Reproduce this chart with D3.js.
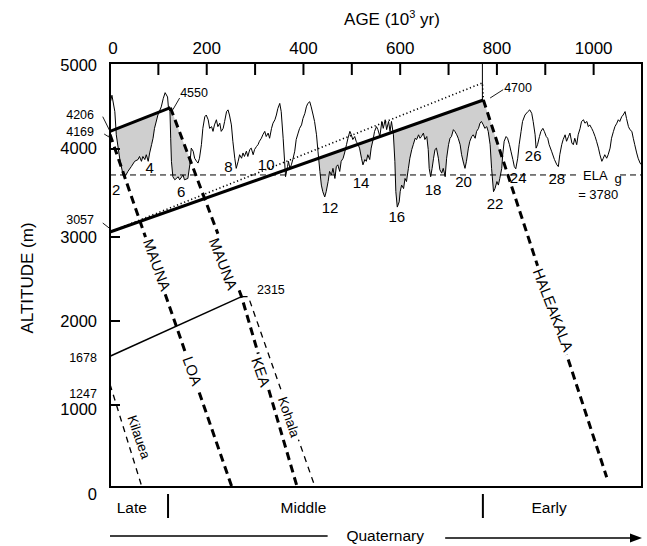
<!DOCTYPE html>
<html>
<head>
<meta charset="utf-8">
<script src="https://cdn.jsdelivr.net/npm/d3@7"></script>
<style>
body { margin: 0; background: #fff; }
svg text { font-family: "Liberation Sans", Arial, Helvetica, sans-serif; fill: #000; }
</style>
</head>
<body>
<svg width="647" height="546"></svg>
<script>
// axis ticks
var ageTicks = [100, 200, 300, 400, 500, 600, 700, 800, 900, 1000];
var ageLabels = [0, 200, 400, 600, 800, 1000];
var altTicks = [1000, 2000, 3000, 4000];
var altLabels = [0, 1000, 2000, 3000, 4000, 5000];

// snowline curve: age (ka) and altitude (m)
var curveAge = [1, 4, 10, 13, 20, 27, 30, 37, 44, 51, 58, 61, 65, 68, 72, 75, 79, 82, 86, 89, 92, 99, 106, 110, 114, 119, 121, 124, 125.5, 127,
  130, 134, 141, 144, 151, 154, 161, 165, 168, 172, 175, 179, 182, 185, 189, 192, 196, 199, 203, 206, 210, 213, 216, 220, 223, 227, 230, 234, 237, 241,
  244, 247, 251, 254, 258, 261, 265, 268, 272, 275, 278, 282, 285, 289, 292, 296, 299, 303, 306, 309, 313, 316, 320, 323, 327, 330, 334, 337, 341, 344,
  347, 351, 354, 358, 361, 363, 367, 369, 372, 375, 378, 382, 385, 389, 392, 396, 399, 403, 406, 409, 413, 416, 420, 423, 427, 430, 434, 437, 440, 444,
  447, 451, 454, 458, 461, 465, 468, 471, 475, 478, 482, 485, 489, 492, 496, 499, 502, 506, 509, 513, 516, 520, 523, 527, 530, 533, 537, 540, 544, 547,
  551, 554, 558, 562, 565, 569, 572, 576, 579, 582, 586, 589, 591, 594, 598, 600, 603, 607, 610, 613, 617, 620, 624, 627, 631, 634, 638, 641, 644, 648,
  651, 655, 658, 660, 663, 666, 669, 672, 675, 679, 682, 686, 689, 693, 696, 700, 703, 706, 710, 713, 717, 720, 724, 727, 731, 734, 737, 741, 744, 748,
  751, 755, 758, 762, 765, 768, 772, 775, 779, 782, 786, 789, 793, 796, 800, 803, 806, 810, 812, 815, 819, 822, 826, 829, 833, 836, 839, 843, 846, 850,
  853, 858, 864, 868, 872, 875, 879, 881, 884, 888, 891, 895, 898, 902, 905, 908, 913, 919, 924, 927, 930, 934, 937, 941, 944, 948, 951, 955, 958, 961,
  965, 968, 972, 975, 979, 982, 986, 989, 992, 996, 999, 1003, 1006, 1010, 1013, 1017, 1020, 1023, 1027, 1030, 1034, 1037, 1041, 1044, 1048, 1051, 1054, 1058, 1061, 1065,
  1068, 1072, 1075, 1079, 1082, 1085, 1089, 1092, 1096, 1099];
var curveAlt = [4550, 4625, 4435, 4165, 3895, 3705, 3675, 3745, 3800, 3860, 3880, 3915, 3860, 3915, 3880, 3935, 3860, 3955, 4050, 4125, 4240, 4395, 4490, 4585, 4655, 4605, 4470, 4435, 4125, 3860,
  3685, 3650, 3685, 3650, 3705, 3650, 3665, 3820, 4010, 3975, 3895, 3860, 3840, 3895, 4050, 4240, 4375, 4395, 4340, 4240, 4260, 4205, 4280, 4340, 4260, 4300, 4205, 4240, 4320, 4435,
  4455, 4395, 4280, 4090, 3895, 3780, 3860, 3935, 3895, 3955, 3915, 3975, 3915, 3995, 4010, 3935, 3995, 4030, 4050, 4090, 4125, 4165, 4205, 4145, 4185, 4125, 4240, 4300, 4340, 4395,
  4470, 4530, 4435, 4125, 3860, 3685, 3800, 3860, 3780, 3820, 3880, 3975, 4110, 4185, 4240, 4280, 4355, 4415, 4490, 4530, 4550, 4490, 4395, 4320, 4165, 3975, 3745, 3590, 3515, 3455,
  3515, 3630, 3745, 3705, 3780, 3665, 3800, 3820, 3745, 3860, 3895, 3955, 4050, 4125, 4205, 4165, 4110, 4145, 4090, 4050, 4010, 3895, 3820, 3880, 3860, 3935, 3880, 4010, 4110, 4205,
  4260, 4225, 4145, 4320, 4240, 4340, 4225, 4320, 4205, 4320, 4165, 3860, 3515, 3340, 3400, 3515, 3590, 3550, 3665, 3630, 3780, 3895, 3995, 4050, 4125, 4110, 4165, 4125, 4145, 4185,
  4110, 4145, 3995, 3780, 3685, 3780, 3895, 3995, 4010, 3895, 3765, 3725, 3780, 3685, 3895, 4050, 4125, 4145, 4225, 4205, 4165, 4125, 4050, 3935, 3840, 3780, 3860, 4010, 4090, 4145,
  4165, 4125, 4205, 4240, 4300, 4320, 4280, 4240, 4260, 4205, 4050, 3780, 3515, 3550, 3630, 3590, 3665, 3780, 3935, 4090, 4145, 4125, 4050, 3975, 3880, 3800, 3775, 3895, 4050, 4205,
  4320, 4395, 4435, 4455, 4415, 4320, 4165, 4010, 4050, 4145, 4205, 4240, 4205, 4145, 4125, 4050, 3975, 3880, 3820, 3800, 3935, 4050, 4110, 4165, 4090, 4145, 4185, 4070, 4050, 4125,
  4050, 4165, 4240, 4320, 4340, 4300, 4320, 4260, 4280, 4240, 4205, 4145, 4090, 4010, 3935, 3860, 3895, 3935, 3895, 3935, 4010, 4125, 4205, 4260, 4300, 4340, 4320, 4375, 4395, 4435,
  4355, 4260, 4225, 4205, 4125, 4050, 3955, 3895, 3840, 3820];

// volcano lines [age, altitude]
var maunaKeaTop = [[0, 4206], [125, 4480]];
var maunaKeaFlank = [[125, 4480], [272, 2290], [387, 0]];
var maunaLoa = [[0, 4169], [252, 0]];
var haleakalaTop = [[0, 3057], [772, 4570]];
var haleakalaFlank = [[772, 4570], [1027, 120]];
var dottedLine = [[0, 3057], [770, 4768], [772, 4570]];
var lowerLine = [[0, 1580], [272, 2290]];
var kohala = [[272, 2290], [286, 2290], [424, 0]];
var kilauea = [[0, 1247], [66, 0]];
var elaAlt = 3705;

// marine isotope stages
var stageNum = [2, 4, 6, 8, 10, 12, 14, 16, 18, 20, 22, 24, 26, 28];
var stageAge = [13, 82, 147, 245, 323, 455, 519, 593, 668, 731, 796, 844, 875, 924];
var stageAlt = [3538, 3792, 3519, 3799, 3822, 3335, 3614, 3228, 3542, 3625, 3375, 3671, 3926, 3659];

var svg = d3.select("svg");

var x = d3.scaleLinear().domain([0, 1100]).range([110, 642]);
var y = d3.scaleLinear().domain([0, 1000, 2000, 3000, 4000, 5000]).range([487, 405, 321, 237, 149, 63]);

var line = d3.line()
    .x(function (d) { return x(d[0]); })
    .y(function (d) { return y(d[1]); });

var curve = curveAge.map(function (a, i) { return [a, curveAlt[i]]; });

// shading: below the upper volcano lines and above the snowline curve
var above = curve.concat([[1100, 5000], [0, 5000]]);
svg.append("clipPath").attr("id", "aboveCurve")
    .append("path").attr("d", line(above) + "Z");

var shade = svg.append("g").attr("clip-path", "url(#aboveCurve)");
shade.append("path")
    .attr("d", line(maunaKeaTop.concat(maunaKeaFlank.slice(1), [[0, 0]])) + "Z")
    .attr("fill", "#cfcfcf");
shade.append("path")
    .attr("d", line(haleakalaTop.concat(haleakalaFlank.slice(1), [[1027, 0], [0, 0]])) + "Z")
    .attr("fill", "#cfcfcf");

// ELA line
svg.append("line")
    .attr("x1", x(0)).attr("x2", x(1100))
    .attr("y1", y(elaAlt)).attr("y2", y(elaAlt))
    .attr("stroke", "#000").attr("stroke-width", 1)
    .attr("stroke-dasharray", "6,4");

// snowline curve
svg.append("path")
    .attr("d", line(curve))
    .attr("fill", "none").attr("stroke", "#000").attr("stroke-width", 1);

function drawLine(pts, w, dash) {
    var p = svg.append("path")
        .attr("d", line(pts))
        .attr("fill", "none")
        .attr("stroke", "#000")
        .attr("stroke-width", w);
    if (dash) p.attr("stroke-dasharray", dash);
    return p;
}

drawLine(dottedLine, 1.6, "1.2,2.6");
drawLine(maunaKeaTop, 3);
drawLine(haleakalaTop, 3);
drawLine(lowerLine, 1.5);
drawLine(maunaKeaFlank, 3, "8,5");
drawLine(maunaLoa, 3, "8,5");
drawLine(haleakalaFlank, 3, "8,5");
drawLine(kohala, 1.3, "6,5");
drawLine(kilauea, 1.3, "6,5");

// vertical marker at 770 ka
drawLine([[770, 5000], [770, 4570]], 1);

// frame
svg.append("rect")
    .attr("x", x(0)).attr("y", y(5000))
    .attr("width", x(1100) - x(0)).attr("height", y(0) - y(5000))
    .attr("fill", "none").attr("stroke", "#000").attr("stroke-width", 2);

svg.selectAll(".xt").data(ageTicks).enter().append("line")
    .attr("x1", function (d) { return x(d); }).attr("x2", function (d) { return x(d); })
    .attr("y1", y(5000)).attr("y2", y(5000) + 12)
    .attr("stroke", "#000").attr("stroke-width", 2);

svg.selectAll(".yt").data(altTicks).enter().append("line")
    .attr("x1", x(0)).attr("x2", x(0) + 10)
    .attr("y1", function (d) { return y(d); }).attr("y2", function (d) { return y(d); })
    .attr("stroke", "#000").attr("stroke-width", 2);

svg.selectAll(".xl").data(ageLabels).enter().append("text")
    .attr("x", function (d) { return x(d) + (d === 0 ? 3 : 0); })
    .attr("y", 54)
    .attr("text-anchor", "middle")
    .style("font-size", "17px")
    .text(function (d) { return d; });

// the hand-drawn labels sit a little below their ticks near the bottom
var altLabelShift = { 0: 7, 1000: 4, 2000: 0, 3000: 0, 4000: -1, 5000: 2 };
svg.selectAll(".yl").data(altLabels).enter().append("text")
    .attr("x", 97)
    .attr("y", function (d) { return y(d) + altLabelShift[d]; })
    .attr("dy", "0.35em")
    .attr("text-anchor", "end")
    .style("font-size", "16.5px")
    .text(function (d) { return d; });

// titles
var tt = svg.append("text").attr("x", 392).attr("y", 25)
    .attr("text-anchor", "middle").style("font-size", "17px");
tt.append("tspan").text("AGE (10");
tt.append("tspan").attr("dy", -7).style("font-size", "11px").text("3");
tt.append("tspan").attr("dy", 7).text(" yr)");

svg.append("text")
    .attr("transform", "translate(33,278) rotate(-90)")
    .attr("text-anchor", "middle")
    .style("font-size", "17px")
    .text("ALTITUDE (m)");

// value labels and leaders
var valueLabels = [
    ["4206", -33, 4400, "end"], ["4169", -33, 4198, "end"], ["3057", -33, 3200, "end"],
    ["1678", -27, 1560, "end"], ["1247", -27, 1140, "end"],
    ["4550", 145, 4651, "start"], ["4700", 815, 4709, "start"], ["2315", 304, 2369, "start"]
];
svg.selectAll(".vl").data(valueLabels).enter().append("text")
    .attr("x", function (d) { return x(d[1]); })
    .attr("y", function (d) { return y(d[2]); })
    .attr("dy", "0.35em")
    .attr("text-anchor", function (d) { return d[3]; })
    .style("font-size", "12.5px")
    .text(function (d) { return d[0]; });

var leaders = [
    [[-15, 4376], [0, 4206]], [[-12, 4174], [-1, 4136]], [[-15, 3159], [-1, 3099]],
    [[130, 4457], [144, 4593]], [[786, 4593], [813, 4690]]
];
leaders.forEach(function (l) { drawLine(l, 0.9); });

// stage numbers
svg.selectAll(".st").data(stageNum).enter().append("text")
    .attr("x", function (d, i) { return x(stageAge[i]); })
    .attr("y", function (d, i) { return y(stageAlt[i]); })
    .attr("dy", "0.35em")
    .attr("text-anchor", "middle")
    .style("font-size", "15px")
    .text(function (d) { return d; });

// rotated volcano labels
function rotLabel(txt, a, alt, angle, size, bg) {
    var g = svg.append("g")
        .attr("transform", "translate(" + x(a) + "," + y(alt) + ") rotate(" + angle + ")");
    var t = g.append("text")
        .attr("text-anchor", "middle")
        .attr("dy", "0.35em")
        .style("font-size", size + "px")
        .text(txt);
    if (bg) {
        var b = t.node().getBBox();
        g.insert("rect", "text")
            .attr("x", b.x - 3).attr("y", b.y)
            .attr("width", b.width + 6).attr("height", b.height)
            .attr("fill", "#fff");
    }
}
rotLabel("MAUNA", 97, 2667, 70, 15, true);
rotLabel("LOA", 170, 1405, 70, 15, true);
rotLabel("MAUNA", 234, 2679, 69, 15, true);
rotLabel("KEA", 312, 1393, 71, 15, true);
rotLabel("Kohala", 370, 854, 71, 13.5, true);
rotLabel("Kilauea", 60, 610, 71, 13.5, false);
rotLabel("HALEAKALA", 916, 2131, 69, 15, true);

// ELA label
var ela = svg.append("g");
ela.append("rect").attr("x", x(972)).attr("y", y(elaAlt) - 7)
    .attr("width", x(1052) - x(972)).attr("height", 13).attr("fill", "#fff");
var et = ela.append("text").attr("x", x(978)).attr("y", y(3700)).attr("dy", "0.35em")
    .style("font-size", "13px");
et.append("tspan").text("ELA");
et.append("tspan").attr("dx", 7).attr("dy", 3).text("g");
ela.append("text").attr("x", x(968)).attr("y", y(3480)).attr("dy", "0.35em")
    .style("font-size", "13px").text("= 3780");

// epochs below the frame
var epochName = ["Late", "Middle", "Early"];
var epochAge = [45, 400, 908];
var epochBreak = [120, 771];
svg.selectAll(".ep").data(epochName).enter().append("text")
    .attr("x", function (d, i) { return x(epochAge[i]); })
    .attr("y", 513)
    .attr("text-anchor", "middle")
    .style("font-size", "15.5px")
    .text(function (d) { return d; });
svg.selectAll(".eb").data(epochBreak).enter().append("line")
    .attr("x1", function (d) { return x(d); }).attr("x2", function (d) { return x(d); })
    .attr("y1", 494).attr("y2", 518)
    .attr("stroke", "#000").attr("stroke-width", 2);

svg.append("line").attr("x1", x(0)).attr("x2", x(450)).attr("y1", 536).attr("y2", 536)
    .attr("stroke", "#000").attr("stroke-width", 1.5);
svg.append("text").attr("x", x(569)).attr("y", 541).attr("text-anchor", "middle")
    .style("font-size", "15.5px").text("Quaternary");
svg.append("line").attr("x1", x(693)).attr("x2", x(1085)).attr("y1", 538).attr("y2", 538)
    .attr("stroke", "#000").attr("stroke-width", 1.5);
svg.append("path")
    .attr("d", "M" + x(1100) + ",538 L" + (x(1100) - 12) + ",533.5 L" + (x(1100) - 12) + ",542.5 Z")
    .attr("fill", "#000");
</script>
</body>
</html>
